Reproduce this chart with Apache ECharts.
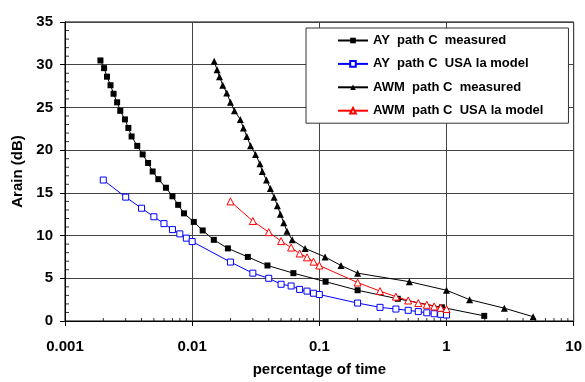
<!DOCTYPE html>
<html>
<head>
<meta charset="utf-8">
<script src="https://cdn.jsdelivr.net/npm/echarts@6/dist/echarts.min.js"></script>
<style>html,body{margin:0;padding:0;background:#fff}#c{width:585px;height:382px}</style>
</head>
<body>
<div id="c"></div>
<script>
var seriesNames = ['AY  path C  measured', 'AY  path C  USA la model', 'AWM  path C  measured', 'AWM  path C  USA la model'];

var ayMeasX = [0.0019, 0.00203, 0.00214, 0.00228, 0.00241, 0.00257, 0.00272, 0.00296, 0.00315, 0.00334, 0.0037, 0.00408, 0.0045, 0.00489, 0.00542, 0.00622, 0.007, 0.00776, 0.00863, 0.0103, 0.0121, 0.0148, 0.0191, 0.0274, 0.0391, 0.0625, 0.112, 0.2, 0.414, 0.92, 1.98];
var ayMeasY = [30.5, 29.6, 28.6, 27.6, 26.6, 25.6, 24.6, 23.6, 22.6, 21.6, 20.5, 19.5, 18.5, 17.5, 16.6, 15.6, 14.6, 13.6, 12.6, 11.6, 10.6, 9.5, 8.5, 7.5, 6.5, 5.6, 4.6, 3.6, 2.6, 1.6, 0.6];

var ayModelX = [0.002, 0.003, 0.004, 0.005, 0.006, 0.007, 0.008, 0.009, 0.01, 0.02, 0.03, 0.04, 0.05, 0.06, 0.07, 0.08, 0.09, 0.1, 0.2, 0.3, 0.4, 0.5, 0.6, 0.7, 0.8, 0.9, 1];
var ayModelY = [16.5, 14.5, 13.2, 12.2, 11.4, 10.7, 10.2, 9.7, 9.3, 6.9, 5.6, 5.0, 4.3, 4.1, 3.7, 3.5, 3.25, 3.1, 2.1, 1.6, 1.4, 1.25, 1.1, 0.96, 0.85, 0.78, 0.7];

var awmMeasX = [0.0149, 0.0157, 0.0164, 0.0174, 0.0187, 0.02, 0.0215, 0.0239, 0.0253, 0.0269, 0.0288, 0.0315, 0.0341, 0.0356, 0.0384, 0.0412, 0.0441, 0.0468, 0.0494, 0.0525, 0.0557, 0.0612, 0.0772, 0.111, 0.148, 0.2, 0.51, 1.0, 1.52, 2.85, 4.8];
var awmMeasY = [30.4, 29.4, 28.6, 27.6, 26.7, 25.6, 24.6, 23.6, 22.6, 21.6, 20.5, 19.5, 18.4, 17.5, 16.5, 15.5, 14.5, 13.5, 12.5, 11.5, 10.5, 9.5, 8.5, 7.5, 6.5, 5.6, 4.6, 3.6, 2.5, 1.5, 0.5];

var awmModelX = [0.02, 0.03, 0.04, 0.05, 0.06, 0.07, 0.08, 0.09, 0.1, 0.2, 0.3, 0.4, 0.5, 0.6, 0.7, 0.8, 0.9, 1];
var awmModelY = [14.0, 11.7, 10.4, 9.35, 8.6, 7.9, 7.45, 6.95, 6.5, 4.5, 3.5, 2.85, 2.4, 2.1, 1.9, 1.7, 1.55, 1.4];

var xMinorTicks = [0.002,0.003,0.004,0.005,0.006,0.007,0.008,0.009,
                   0.02,0.03,0.04,0.05,0.06,0.07,0.08,0.09,
                   0.2,0.3,0.4,0.5,0.6,0.7,0.8,0.9,
                   2,3,4,5,6,7,8,9];
var yMinorTicks = [1,2,3,4,6,7,8,9,11,12,13,14,16,17,18,19,21,22,23,24,26,27,28,29,31,32,33,34];

function zip(xs, ys) { return xs.map(function (x, i) { return [x, ys[i]]; }); }

var FONT = '"Liberation Sans", Arial, sans-serif';
var chart = echarts.init(document.getElementById('c'), null, { renderer: 'canvas' });

var option = {
  backgroundColor: '#fff',
  animation: false,
  grid: { left: 65, right: 7, top: 22, bottom: 58, show: true, borderColor: '#000', borderWidth: 1, backgroundColor: '#fff' },
  legend: {
    data: seriesNames,
    orient: 'vertical',
    left: 306, top: 28,
    padding: [5, 25, 5, 31],
    itemWidth: 30, itemHeight: 7, itemGap: 8.4,
    backgroundColor: '#fff', borderColor: '#333', borderWidth: 1,
    textStyle: { fontFamily: FONT, fontWeight: 'bold', fontSize: 13, color: '#000', lineHeight: 15 }
  },
  xAxis: {
    type: 'log', logBase: 10, min: 0.001, max: 10,
    name: 'percentage of time', nameLocation: 'middle', nameGap: 41,
    nameTextStyle: { fontFamily: FONT, fontWeight: 'bold', fontSize: 15, color: '#000' },
    axisLine: { lineStyle: { color: '#000', width: 1 } },
    axisTick: { show: true, length: 5, lineStyle: { color: '#000' } },
    axisLabel: { margin: 18, fontFamily: FONT, fontWeight: 'bold', fontSize: 15, color: '#000',
      formatter: function (v) { return String(Number(v.toPrecision(6))); } },
    splitLine: { show: true, lineStyle: { color: '#444', width: 1 } },
    minorTick: { show: false }
  },
  yAxis: {
    type: 'value', min: 0, max: 35, interval: 5,
    name: 'Arain (dB)', nameLocation: 'middle', nameGap: 37, nameRotate: 90,
    nameTextStyle: { fontFamily: FONT, fontWeight: 'bold', fontSize: 15, color: '#000' },
    axisLine: { show: true, lineStyle: { color: '#000', width: 1 } },
    axisTick: { show: true, length: 5, lineStyle: { color: '#000' } },
    axisLabel: { margin: 12, fontFamily: FONT, fontWeight: 'bold', fontSize: 15, color: '#000' },
    splitLine: { show: true, lineStyle: { color: '#444', width: 1 } }
  },
  series: [
    {
      name: seriesNames[0], type: 'line', data: zip(ayMeasX, ayMeasY),
      symbol: 'rect', symbolSize: 6, z: 3,
      lineStyle: { color: '#000', width: 1 }, itemStyle: { color: '#000' }
    },
    {
      name: seriesNames[1], type: 'line', data: zip(ayModelX, ayModelY),
      symbol: 'rect', symbolSize: 6, z: 4,
      lineStyle: { color: '#0000ff', width: 1 }, itemStyle: { color: '#fff', borderColor: '#0000ff', borderWidth: 1 }
    },
    {
      name: seriesNames[2], type: 'line', data: zip(awmMeasX, awmMeasY),
      symbol: 'triangle', symbolSize: 7, z: 5,
      lineStyle: { color: '#000', width: 1 }, itemStyle: { color: '#000' }
    },
    {
      name: seriesNames[3], type: 'line', data: zip(awmModelX, awmModelY),
      symbol: 'triangle', symbolSize: 7, z: 6,
      lineStyle: { color: '#ff0000', width: 1 }, itemStyle: { color: '#fff', borderColor: '#ff0000', borderWidth: 1 }
    },
    {
      name: 'xminor', type: 'scatter', silent: true, clip: false, z: 2,
      data: xMinorTicks.map(function (v) { return [v, 0]; }),
      symbol: 'rect', symbolSize: [1, 3], symbolOffset: [0, -1.5],
      itemStyle: { color: '#000' }
    },
    {
      name: 'yminor', type: 'scatter', silent: true, clip: false, z: 2,
      data: yMinorTicks.map(function (v) { return [0.001, v]; }),
      symbol: 'rect', symbolSize: [4, 1], symbolOffset: [2, 0],
      itemStyle: { color: '#000' }
    }
  ]
};
chart.setOption(option);
</script>
</body>
</html>
